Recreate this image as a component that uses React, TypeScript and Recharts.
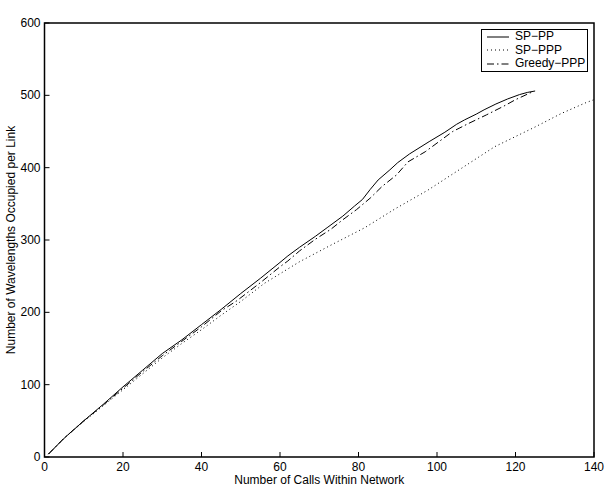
import React from "react";
import { LineChart, Line, XAxis, YAxis, ReferenceArea } from "recharts";

// ---------- data ----------
const spPP: [number, number][] = [
  [1, 4], [5, 26], [10, 50], [15, 73], [20, 97], [25, 120], [30, 143], [35, 162],
  [40, 183], [45, 204], [50, 226], [55, 247], [60, 269], [62, 278], [65, 290],
  [69, 305], [72, 317], [76, 333], [79, 347], [81, 356], [83, 370], [85, 383],
  [88, 397], [90, 407], [93, 419], [98, 436], [102, 449], [105, 460], [107, 466],
  [110, 474], [112, 480], [115, 488], [118, 495], [121, 501], [123, 504], [125, 506],
];
const spPPP: [number, number][] = [
  [1, 4], [5, 26], [10, 49], [15, 71], [20, 93], [25, 115], [30, 137], [35, 157],
  [40, 176], [45, 196], [50, 215], [56, 240], [65, 270], [73, 293], [81.6, 317],
  [89.3, 343], [97.7, 369], [106.2, 399], [114.7, 429], [124.9, 456], [131.7, 475],
  [138, 490], [140, 494],
];
const greedyPPP: [number, number][] = [
  [1, 4], [5, 26], [10, 50], [15, 72], [20, 95], [25, 118], [30, 140], [35, 160],
  [40, 180], [45, 202], [49, 216], [55, 241], [60, 263], [62, 271], [65, 285],
  [69, 301], [73, 315], [76, 328], [79.5, 342], [83, 358], [86, 374], [89.7, 390],
  [92.6, 408], [97, 422], [104, 450], [108, 461], [112.6, 473], [117, 485],
  [120, 494], [124, 504],
];

const xTicks = [0, 20, 40, 60, 80, 100, 120, 140];
const yTicks = [0, 100, 200, 300, 400, 500, 600];

const titleText = "Network Resource Utilitation versus Numer of Calls in Sprint OC\u221248 Network";
const xLabelText = "Number of Calls Within Network";
const yLabelText = "Number of Wavelengths Occupied per Link";

const series = [
  { name: "SP\u2212PP", data: spPP, dash: undefined as string | undefined, color: "#000" },
  { name: "SP\u2212PPP", data: spPPP, dash: "1 3", color: "#000" },
  { name: "Greedy\u2212PPP", data: greedyPPP, dash: "7 3 1.5 3", color: "#000" },
];

const toRows = (d: [number, number][]) => d.map(([x, y]) => ({ x, y }));

// ---------- styling ----------
const FONT = "'Liberation Sans', Arial, Helvetica, sans-serif";
const FS = 12;
const TICK = 5;
const W = 605;
const H = 492;

const BottomTick = (props: any) => {
  const { x, y, payload } = props;
  return (
    <g>
      <line x1={x} x2={x} y1={y} y2={y - TICK} stroke="#000" strokeWidth={1} />
      <text x={x} y={y + 14} textAnchor="middle" fontSize={FS} fontFamily={FONT} fill="#000">
        {payload.value}
      </text>
    </g>
  );
};
const TopTick = (props: any) => {
  const { x, y } = props;
  return <line x1={x} x2={x} y1={y} y2={y + TICK} stroke="#000" strokeWidth={1} />;
};
const LeftTick = (props: any) => {
  const { x, y, payload } = props;
  return (
    <g>
      <line x1={x} x2={x + TICK} y1={y} y2={y} stroke="#000" strokeWidth={1} />
      <text x={x - 4} y={y + 4} textAnchor="end" fontSize={FS} fontFamily={FONT} fill="#000">
        {payload.value}
      </text>
    </g>
  );
};
const RightTick = (props: any) => {
  const { x, y } = props;
  return <line x1={x} x2={x - TICK} y1={y} y2={y} stroke="#000" strokeWidth={1} />;
};

const LegendBox = () => (
  <div
    style={{
      position: "absolute",
      left: 481,
      top: 29,
      width: 107,
      height: 43,
      border: "1px solid #000",
      background: "#fff",
      fontFamily: FONT,
      fontSize: FS,
      lineHeight: "13.5px",
      padding: "0px 0 0 0",
      boxSizing: "border-box",
    }}
  >
    {series.map((s) => (
      <div key={s.name} style={{ display: "flex", alignItems: "center", height: 13.5 }}>
        <svg width={33} height={12} style={{ display: "block", flex: "none" }}>
          <line x1={5} x2={27} y1={6} y2={6} stroke={s.color} strokeWidth={1} strokeDasharray={s.dash} />
        </svg>
        <span style={{ color: "#000", whiteSpace: "nowrap" }}>{s.name}</span>
      </div>
    ))}
  </div>
);

export default function App() {
  return (
    <div style={{ position: "absolute", left: 0, top: 0, width: W, height: H, background: "#fff" }}>
      <LineChart width={W} height={H} margin={{ top: 23, right: 11, bottom: 0, left: 0 }}>
        <XAxis
          dataKey="x"
          type="number"
          domain={[0, 140]}
          ticks={xTicks}
          allowDataOverflow
          height={35}
          axisLine={false}
          tickLine={false}
          tickSize={0}
          tickMargin={0}
          tick={BottomTick}
          interval={0}
          label={(p: any) => {
            const vb = p.viewBox;
            return (
              <text x={vb.x + vb.width / 2} y={vb.y + 27} textAnchor="middle" fontSize={FS} fontFamily={FONT} fill="#000">
                {xLabelText}
              </text>
            );
          }}
        />
        <XAxis
          xAxisId="top"
          orientation="top"
          dataKey="x"
          type="number"
          domain={[0, 140]}
          ticks={xTicks}
          height={0}
          axisLine={false}
          tickLine={false}
          tickSize={0}
          tickMargin={0}
          tick={TopTick}
          interval={0}
          label={(p: any) => {
            const vb = p.viewBox;
            return (
              <text x={vb.x + vb.width / 2} y={vb.y - 9} textAnchor="middle" fontSize={FS} fontFamily={FONT} fill="#000">
                {titleText}
              </text>
            );
          }}
        />
        <YAxis
          type="number"
          domain={[0, 600]}
          ticks={yTicks}
          width={44.5}
          axisLine={false}
          tickLine={false}
          tickSize={0}
          tickMargin={0}
          tick={LeftTick}
          interval={0}
          label={(p: any) => {
            const vb = p.viewBox;
            const cx = vb.x + 12;
            const cy = vb.y + vb.height / 2;
            return (
              <text x={cx} y={cy} transform={`rotate(-90 ${cx} ${cy})`} textAnchor="middle" dominantBaseline="middle" fontSize={FS} fontFamily={FONT} fill="#000">
                {yLabelText}
              </text>
            );
          }}
        />
        <YAxis
          yAxisId="right"
          orientation="right"
          type="number"
          domain={[0, 600]}
          ticks={yTicks}
          width={0}
          axisLine={false}
          tickLine={false}
          tickSize={0}
          tickMargin={0}
          tick={RightTick}
          interval={0}
        />
        <ReferenceArea x1={0} x2={140} y1={0} y2={600} stroke="#000" strokeWidth={1.5} fill="none" fillOpacity={0} ifOverflow="extendDomain" />
        {series.map((s) => (
          <Line
            key={s.name}
            data={toRows(s.data)}
            dataKey="y"
            name={s.name}
            type="linear"
            stroke={s.color}
            strokeWidth={1}
            strokeDasharray={s.dash}
            dot={false}
            activeDot={false}
            isAnimationActive={false}
          />
        ))}
      </LineChart>
      <LegendBox />
    </div>
  );
}
